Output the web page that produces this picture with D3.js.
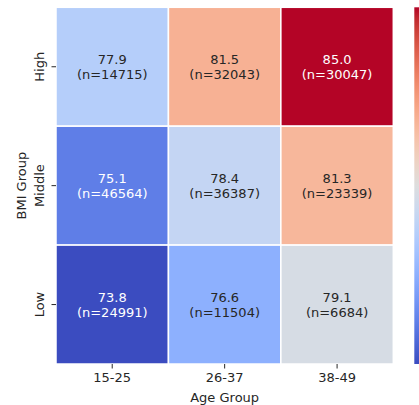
<!DOCTYPE html>
<html><head><meta charset="utf-8">
<script src="https://cdn.jsdelivr.net/npm/d3@7"></script>
<style>html,body{margin:0;padding:0;background:#fff;overflow:hidden}</style>
</head><body><svg id="c" width="419" height="405"></svg>
<script>
const ageGroups = ["15-25", "26-37", "38-49"];
const bmiGroups = ["High", "Middle", "Low"];
const means = [
  [77.9, 81.5, 85.0],
  [75.1, 78.4, 81.3],
  [73.8, 76.6, 79.1]
];
const counts = [
  [14715, 32043, 30047],
  [46564, 36387, 23339],
  [24991, 11504, 6684]
];
const xLabel = "Age Group";
const yLabel = "BMI Group";

// matplotlib coolwarm anchors
const cw = [[0.2298057,0.298717966,0.753683153],[0.26623388,0.353094838,0.801466763],[0.30386891,0.406535296,0.84495867],[0.342804478,0.458757618,0.883725899],[0.38301334,0.50941904,0.917387822],[0.424369608,0.558148092,0.945619588],[0.46666708,0.604562568,0.968154911],[0.509635204,0.648280772,0.98478814],[0.552953156,0.688929332,0.995375608],[0.596262162,0.726149107,0.999836203],[0.639176211,0.759599947,0.998151185],[0.681291281,0.788964712,0.990363227],[0.722193294,0.813952739,0.976574709],[0.761464949,0.834302879,0.956945269],[0.798691636,0.849786142,0.931688648],[0.833466556,0.860207984,0.901068838],[0.865395197,0.86541021,0.865395561],[0.897787179,0.848937047,0.820880546],[0.924127593,0.827384882,0.774508472],[0.944468518,0.800927443,0.726736146],[0.958852946,0.769767752,0.678007945],[0.96732803,0.734132809,0.628751763],[0.969954137,0.694266682,0.579375448],[0.966811177,0.650421156,0.530263762],[0.958003065,0.602842431,0.481775914],[0.943660866,0.551750968,0.434243684],[0.923944917,0.49730856,0.387970225],[0.89904617,0.439559467,0.343229596],[0.869186849,0.378313092,0.300267182],[0.834620542,0.312874446,0.259301199],[0.795631745,0.24128379,0.220525627],[0.752534934,0.157246067,0.184115123],[0.705673158,0.01555616,0.150232812]];
function coolwarm(t){
  t = Math.max(0, Math.min(1, t));
  const p = t*(cw.length-1), i = Math.min(cw.length-2, Math.floor(p)), f = p - i;
  const a = cw[i], b = cw[i+1];
  return d3.rgb((a[0]+(b[0]-a[0])*f)*255, (a[1]+(b[1]-a[1])*f)*255, (a[2]+(b[2]-a[2])*f)*255);
}
const all = means.flat();
const vmin = d3.min(all), vmax = d3.max(all);
const norm = d3.scaleLinear().domain([vmin, vmax]).range([0,1]);

const svg = d3.select("#c");
const font = "DejaVu Sans, sans-serif";
const L = 56, R = 393.3, T = 7.3, B = 364;
const x = d3.scaleBand().domain(ageGroups).range([L, R]);
const y = d3.scaleBand().domain(bmiGroups).range([T, B]);

const cells = [];
bmiGroups.forEach((b, i) => ageGroups.forEach((a, j) => cells.push({a, b, v: means[i][j], n: counts[i][j]})));

svg.selectAll("rect.cell").data(cells).join("rect")
  .attr("x", d => x(d.a)).attr("y", d => y(d.b))
  .attr("width", x.bandwidth()).attr("height", y.bandwidth())
  .attr("fill", d => coolwarm(norm(d.v)))
  .attr("stroke", "#fff").attr("stroke-width", 1.5);

function lum(c){
  const f = v => { v/=255; return v <= 0.03928 ? v/12.92 : Math.pow((v+0.055)/1.055, 2.4); };
  return 0.2126*f(c.r)+0.7152*f(c.g)+0.0722*f(c.b);
}
const g = svg.selectAll("g.ann").data(cells).join("g")
  .attr("transform", d => `translate(${x(d.a)+x.bandwidth()/2},${y(d.b)+y.bandwidth()/2})`);
g.each(function(d){
  const col = lum(coolwarm(norm(d.v))) > 0.408 ? "#262626" : "#ffffff";
  const s = d3.select(this);
  s.append("text").attr("y", -7.5).attr("dy", "0.35em").attr("text-anchor", "middle")
    .attr("font-family", font).attr("font-size", 13).attr("fill", col).text(d.v.toFixed(1));
  s.append("text").attr("y", 7.5).attr("dy", "0.35em").attr("text-anchor", "middle")
    .attr("font-family", font).attr("font-size", 13).attr("fill", col).text(`(n=${d.n})`);
});

// axes
const xAxis = svg.append("g").attr("transform", `translate(0,${B})`)
  .call(d3.axisBottom(x).tickSize(4.5).tickPadding(4));
const yAxis = svg.append("g").attr("transform", `translate(${L},0)`)
  .call(d3.axisLeft(y).tickSize(4.5).tickPadding(5));
[xAxis, yAxis].forEach(a => {
  a.select(".domain").remove();
  a.selectAll(".tick line").attr("stroke", "#262626").attr("stroke-width", 1);
  a.selectAll(".tick text").attr("font-family", font).attr("font-size", 13).attr("fill", "#262626");
});
yAxis.selectAll(".tick text")
  .attr("transform", "rotate(-90)")
  .attr("x", 0).attr("y", -12.5).attr("dy", "0em").attr("text-anchor", "middle");

svg.append("text").attr("x", (L+R)/2).attr("y", 397).attr("dy", "0.35em")
  .attr("text-anchor", "middle").attr("font-family", font).attr("font-size", 13).attr("fill", "#262626").text(xLabel);
svg.append("text").attr("transform", `translate(21,${(T+B)/2}) rotate(-90)`).attr("dy", "0.35em")
  .attr("text-anchor", "middle").attr("font-family", font).attr("font-size", 13).attr("fill", "#262626").text(yLabel);

// colorbar
const defs = svg.append("defs");
const grad = defs.append("linearGradient").attr("id", "cb").attr("x1", 0).attr("x2", 0).attr("y1", 1).attr("y2", 0);
d3.range(0, 1.0001, 1/32).forEach(t => grad.append("stop").attr("offset", t).attr("stop-color", coolwarm(t)));
svg.append("rect").attr("x", 414.3).attr("y", T).attr("width", 18).attr("height", B - T).attr("fill", "url(#cb)");
</script></body></html>
